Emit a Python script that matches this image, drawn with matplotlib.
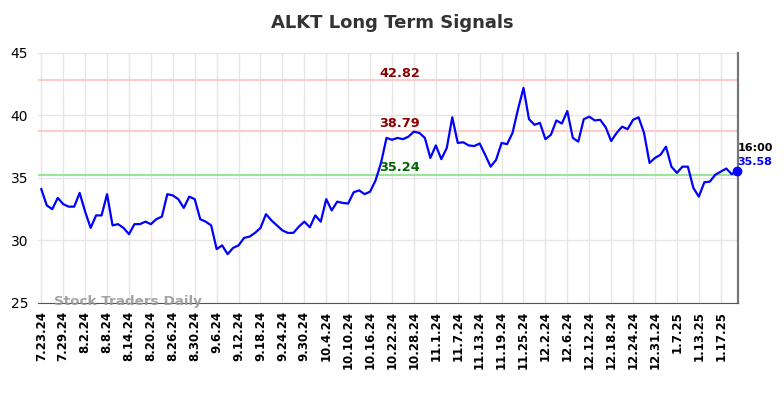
import numpy as np
from matplotlib import pyplot as plt

# closing prices, one per trading day
prices = [34.1, 32.8, 32.5, 33.4, 32.9, 32.7, 32.7, 33.8, 32.3, 31.0,
          32.0, 32.0, 33.7, 31.2, 31.3, 31.0, 30.5, 31.3, 31.3, 31.5,
          31.3, 31.7, 31.9, 33.7, 33.6, 33.3, 32.6, 33.5, 33.3, 31.7,
          31.5, 31.2, 29.3, 29.6, 28.9, 29.4, 29.6, 30.2, 30.3, 30.6,
          31.0, 32.1, 31.6, 31.2, 30.8, 30.6, 30.6, 31.1, 31.5, 31.05,
          32.0, 31.5, 33.3, 32.4, 33.1, 33.0, 32.95, 33.85, 34.0, 33.7,
          33.9, 34.8, 36.2, 38.2, 38.05, 38.2, 38.1, 38.3, 38.7, 38.6,
          38.2, 36.6, 37.6, 36.5, 37.4, 39.85, 37.8, 37.85, 37.6, 37.55,
          37.75, 36.85, 35.9, 36.45, 37.8, 37.7, 38.6, 40.5, 42.2, 39.7,
          39.25, 39.4, 38.1, 38.45, 39.6, 39.35, 40.35, 38.2, 37.9, 39.7,
          39.9, 39.6, 39.65, 39.05, 37.95, 38.6, 39.1, 38.9, 39.65, 39.85,
          38.6, 36.2, 36.6, 36.85, 37.5, 35.9, 35.4, 35.9, 35.9, 34.2,
          33.5, 34.65, 34.7, 35.25, 35.5, 35.75, 35.3, 35.58]

tick_labels = ["7.23.24", "7.29.24", "8.2.24", "8.8.24", "8.14.24", "8.20.24",
               "8.26.24", "8.30.24", "9.6.24", "9.12.24", "9.18.24", "9.24.24",
               "9.30.24", "10.4.24", "10.10.24", "10.16.24", "10.22.24",
               "10.28.24", "11.1.24", "11.7.24", "11.13.24", "11.19.24",
               "11.25.24", "12.2.24", "12.6.24", "12.12.24", "12.18.24",
               "12.24.24", "12.31.24", "1.7.25", "1.13.25", "1.17.25"]

resist_hi = 42.82
resist_lo = 38.79
support = 35.24
last_time = "16:00"

x = np.arange(len(prices))
ticks = np.arange(0, 4 * len(tick_labels), 4)

fig = plt.figure(figsize=(7.84, 3.98), dpi=100)
ax = fig.add_axes([0.0485, 0.239, 0.8925, 0.628])

ax.plot(x, prices, color="#0000ff", lw=1.6, zorder=3)
ax.scatter([x[-1]], [prices[-1]], color="#0000ff", s=36, zorder=5, clip_on=False)

ax.axhline(resist_hi, color="#ffcccc", lw=1.5, zorder=2)
ax.axhline(resist_lo, color="#ffcccc", lw=1.5, zorder=2)
ax.axhline(support, color="#99e699", lw=1.5, zorder=2)

mid = 65.4
ax.text(mid, resist_hi + 0.05, f"{resist_hi:.2f}", color="#8b0000", fontsize=9.3,
        fontweight="bold", ha="center", va="bottom")
ax.text(mid, resist_lo + 0.05, f"{resist_lo:.2f}", color="#8b0000", fontsize=9.3,
        fontweight="bold", ha="center", va="bottom")
ax.text(mid, support + 0.05, f"{support:.2f}", color="#006400", fontsize=9.3,
        fontweight="bold", ha="center", va="bottom")

ax.text(x[-1], prices[-1] + 1.45, last_time, color="black", fontsize=8,
        fontweight="bold", ha="left", va="bottom")
ax.text(x[-1], prices[-1] + 0.3, f"{prices[-1]:.2f}", color="#0000ff", fontsize=8,
        fontweight="bold", ha="left", va="bottom")

ax.text(2.3, 25.08, "Stock Traders Daily", color="#999999", fontsize=9.7,
        fontweight="bold", ha="left", va="center", alpha=0.9)

ax.set_xlim(-0.6, 127.1)
ax.set_ylim(25, 45)
ax.set_yticks([25, 30, 35, 40, 45])
ax.set_xticks(ticks)
ax.set_xticklabels(tick_labels, rotation=90, fontsize=8.5, fontweight="bold")
ax.tick_params(axis="y", labelsize=10, length=0, pad=7)
ax.tick_params(axis="x", length=0, pad=6)
ax.grid(True, color="#e6e6e6", lw=1)
ax.set_axisbelow(True)

ax.spines["top"].set_visible(False)
ax.spines["left"].set_visible(False)
ax.spines["bottom"].set_color("#555555")
ax.spines["right"].set_color("#777777")
ax.spines["right"].set_linewidth(1.6)

fig.suptitle("ALKT Long Term Signals", fontsize=13, fontweight="bold",
             color="#333333", y=0.965)

fig.savefig("out.png", dpi=100)
